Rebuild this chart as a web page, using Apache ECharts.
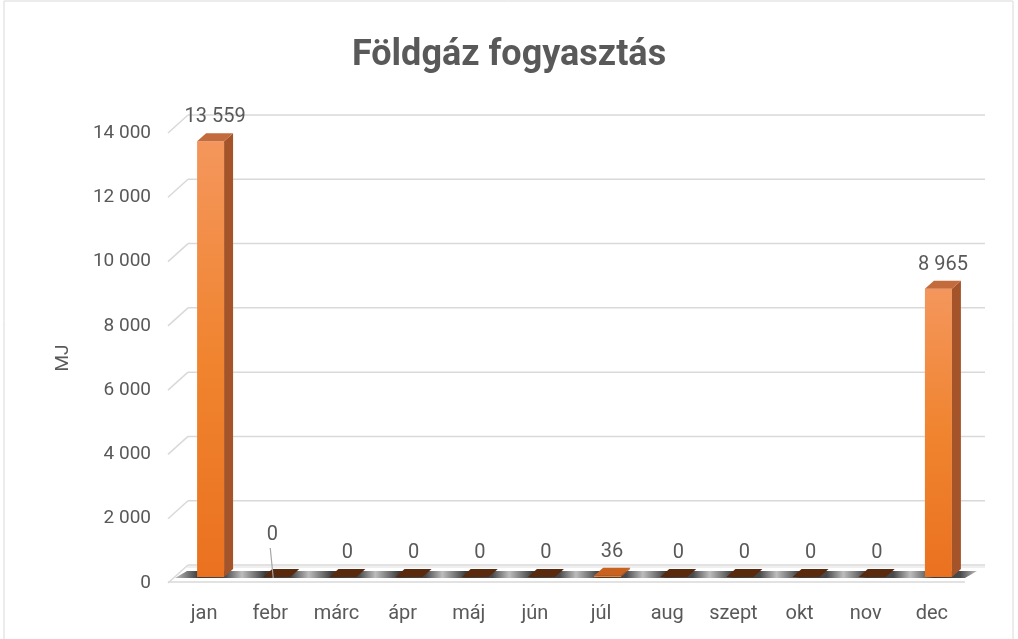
<!DOCTYPE html>
<html>
<head>
<meta charset="utf-8">
<script src="https://cdn.jsdelivr.net/npm/echarts@6/dist/echarts.min.js"></script>
<style>
  html, body { margin: 0; padding: 0; background: #fff; }
  #chart { width: 1018px; height: 639px; }
</style>
</head>
<body>
<div id="chart"></div>
<script>
const categories = ['jan', 'febr', 'márc', 'ápr', 'máj', 'jún', 'júl', 'aug', 'szept', 'okt', 'nov', 'dec'];
const values = [13559, 0, 0, 0, 0, 0, 36, 0, 0, 0, 0, 8965];
const yTicks = [0, 2000, 4000, 6000, 8000, 10000, 12000, 14000];
// labels that were dragged up in the original, with a leader line
const liftedLabels = ['febr'];

const txt = '#595959';
const font = 'Roboto, "Liberation Sans", sans-serif';
const fmt = n => String(Math.round(n)).replace(/\B(?=(\d{3})+(?!\d))/g, ' ');

// depth of the walls and of the bars
const WALL_DX = 20, WALL_DY = -18;
const BAR_W = 27, BAR_DX = 9, BAR_DY = -8;

function renderWall(params, api) {
  const cs = params.coordSys;
  const y = api.coord([0, api.value(1)])[1];
  const x0 = cs.x - 3;
  return {
    type: 'group',
    children: [
      { type: 'line', shape: { x1: x0, y1: y, x2: x0 + WALL_DX, y2: y + WALL_DY },
        style: { stroke: '#d9d9d9', lineWidth: 1.5 } },
      { type: 'line', shape: { x1: x0 + WALL_DX, y1: y + WALL_DY, x2: cs.x + cs.width + WALL_DX, y2: y + WALL_DY },
        style: { stroke: '#d9d9d9', lineWidth: 1.5 } }
    ]
  };
}

function renderFloor(params, api) {
  const cs = params.coordSys;
  const yb = cs.y + cs.height;
  const band = cs.width / categories.length;
  const stops = [];
  categories.forEach((c, i) => {
    stops.push({ offset: (i * band) / cs.width, color: '#bdbdbd' });
    stops.push({ offset: ((i + 0.35) * band) / cs.width, color: '#3c3c3c' });
    stops.push({ offset: ((i + 0.75) * band) / cs.width, color: '#4a4a4a' });
  });
  stops.push({ offset: 1, color: '#bdbdbd' });
  return {
    type: 'group',
    children: [
      { type: 'line', shape: { x1: cs.x + 16, y1: yb - 16, x2: cs.x + cs.width + WALL_DX, y2: yb - 16 },
        style: { stroke: '#e0e0e0', lineWidth: 1.2 } },
      { type: 'polygon',
        shape: { points: [[cs.x + 4, yb - 5], [cs.x + cs.width, yb - 5], [cs.x + cs.width + 12, yb - 12], [cs.x + 16, yb - 12]] },
        style: { fill: new echarts.graphic.LinearGradient(0, 0, 1, 0, stops) } },
      { type: 'line', shape: { x1: cs.x - 3, y1: yb - 1, x2: cs.x + cs.width, y2: yb - 1 },
        style: { stroke: '#d9d9d9', lineWidth: 1.5 } }
    ]
  };
}

function renderBar(params, api) {
  const i = api.value(0);
  const v = api.value(1);
  const base = api.coord([i, 0]);
  const top = api.coord([i, v]);
  const cx = base[0] + 6.5;
  const yb = base[1] - 6;
  const yt = top[1] - 6;
  const l = cx - BAR_W / 2, r = cx + BAR_W / 2;
  const children = [];
  if (yb - yt > 0.5) {
    children.push({
      type: 'rect', shape: { x: l, y: yt, width: BAR_W, height: yb - yt },
      style: { fill: new echarts.graphic.LinearGradient(0, 0, 0, 1, [
        { offset: 0, color: '#f4965c' }, { offset: 0.5, color: '#f0842f' }, { offset: 1, color: '#ea7120' }]) }
    });
    children.push({
      type: 'polygon', shape: { points: [[r, yb], [r, yt], [r + BAR_DX, yt + BAR_DY], [r + BAR_DX, yb + BAR_DY]] },
      style: { fill: '#a5542a' }
    });
  }
  const topColor = v === 0 ? '#5a2a0e' : (yb - yt > 5 ? '#c46b3d' : '#c9621f');
  children.push({
    type: 'polygon', shape: { points: [[l, yt], [r, yt], [r + BAR_DX, yt + BAR_DY], [l + BAR_DX, yt + BAR_DY]] },
    style: { fill: topColor }
  });
  const lifted = liftedLabels.includes(categories[i]);
  const ly = yt + BAR_DY - 16 - (lifted ? 18 : 0);
  const lx = cx + BAR_DX / 2 - (lifted ? 9 : 0);
  if (lifted) {
    children.push({ type: 'line', shape: { x1: lx - 2, y1: ly + 13, x2: lx + 1, y2: yt + 1 },
      style: { stroke: '#a6a6a6', lineWidth: 1.2 } });
  }
  children.push({
    type: 'text', x: lx, y: ly,
    style: { text: fmt(v), fill: txt, font: '20px ' + font, align: 'center', verticalAlign: 'middle' }
  });
  return { type: 'group', children };
}

const chart = echarts.init(document.getElementById('chart'));
chart.setOption({
  backgroundColor: '#fff',
  animation: false,
  title: {
    text: 'Földgáz fogyasztás', left: 'center', top: 33,
    textStyle: { color: txt, fontSize: 36, fontWeight: 'bold', fontFamily: font }
  },
  graphic: [{
    type: 'rect', shape: { x: 4, y: 1, width: 1009, height: 640 },
    style: { fill: 'none', stroke: '#d9d9d9', lineWidth: 1 }, silent: true
  }],
  grid: { left: 171, right: 53, top: 133, bottom: 56 },
  xAxis: {
    type: 'category', data: categories,
    axisLine: { show: false }, axisTick: { show: false },
    axisLabel: { color: txt, fontSize: 20, fontFamily: font, margin: 21 }
  },
  yAxis: {
    type: 'value', min: 0, max: 14000, interval: 2000,
    name: 'MJ', nameLocation: 'middle', nameRotate: 90, nameGap: 98,
    nameTextStyle: { color: txt, fontSize: 19, fontFamily: font },
    axisLine: { show: false }, axisTick: { show: false }, splitLine: { show: false },
    axisLabel: { color: txt, fontSize: 19, fontFamily: font, margin: 20, formatter: fmt }
  },
  series: [
    { type: 'custom', silent: true, z: 1, renderItem: renderWall,
      data: yTicks.map(t => [0, t]) },
    { type: 'custom', silent: true, z: 2, renderItem: renderFloor, data: [[0, 0]] },
    { type: 'custom', z: 3, renderItem: renderBar,
      encode: { x: 0, y: 1 },
      data: categories.map((c, i) => [i, values[i]]) }
  ]
});
</script>
</body>
</html>
